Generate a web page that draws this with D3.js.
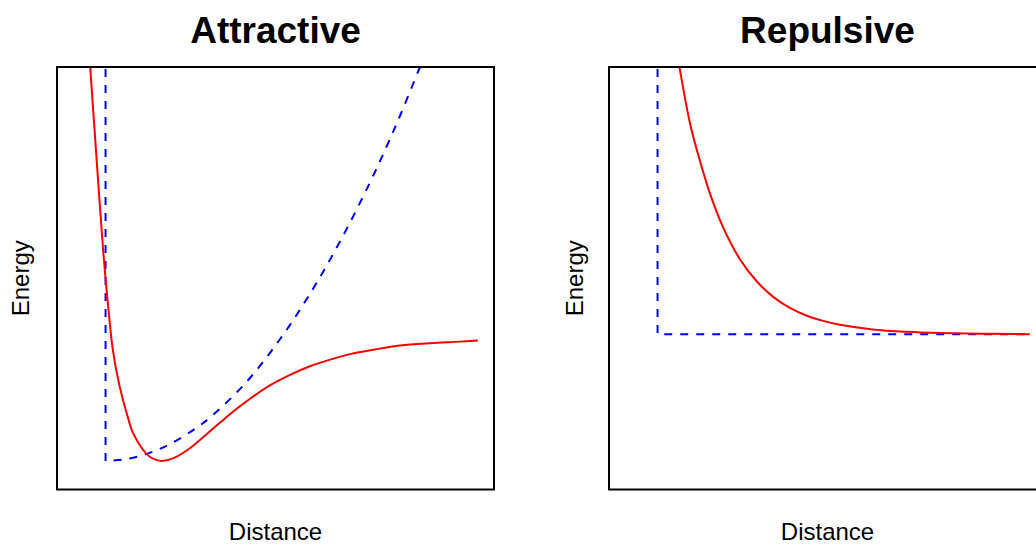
<!DOCTYPE html>
<html>
<head>
<meta charset="utf-8">
<script src="https://cdn.jsdelivr.net/npm/d3@7"></script>
<style>
  html, body { margin: 0; padding: 0; background: #fff; }
  svg { display: block; }
  text { font-family: "Liberation Sans", Arial, Helvetica, sans-serif; fill: #000; }
</style>
</head>
<body>
<svg id="chart" width="1036" height="544"></svg>
<script>
// ---- Data (arbitrary distance / energy units) ----
const panelTitles = ["Attractive", "Repulsive"];
const xLabel = "Distance";
const yLabel = "Energy";

// Attractive panel: realistic potential (red, solid)
const attractiveDistance = [0.35, 0.42, 0.58, 0.74, 0.81, 0.89, 0.98, 1.13, 1.35, 1.48, 1.73, 1.90, 2.02, 2.19, 2.52, 2.89, 3.26, 3.63, 4.00, 4.37, 4.86, 5.36, 5.85, 6.35, 6.84, 7.46, 8.08, 8.82, 9.56, 10.00];
const attractiveEnergy   = [11.35, 10.40, 8.02, 5.72, 4.88, 4.01, 3.17, 2.32, 1.45, 1.04, 0.61, 0.43, 0.37, 0.33, 0.42, 0.66, 0.98, 1.31, 1.63, 1.92, 2.26, 2.53, 2.75, 2.92, 3.06, 3.18, 3.28, 3.34, 3.38, 3.41];

// Attractive panel: idealised model (blue, dashed) - hard wall then parabola
const attractiveModelWall = { distance: 0.80, top: 11.17 };
const attractiveModelDistance = [0.80, 1.28, 1.82, 2.39, 3.01, 3.46, 4.30, 5.11, 5.85, 6.59, 7.34, 7.76, 8.08, 8.57, 8.82];
const attractiveModelEnergy   = [0.33, 0.37, 0.51, 0.76, 1.15, 1.51, 2.37, 3.44, 4.60, 5.93, 7.46, 8.40, 9.16, 10.40, 11.04];

// Repulsive panel: realistic potential (red, solid)
const repulsiveDistance = [1.22, 1.34, 1.60, 1.85, 2.10, 2.42, 2.84, 3.26, 3.65, 4.07, 4.49, 4.89, 5.31, 6.12, 6.96, 7.78, 10.00];
const repulsiveEnergy   = [11.09, 10.40, 8.97, 7.99, 7.15, 6.30, 5.48, 4.91, 4.53, 4.24, 4.04, 3.91, 3.81, 3.69, 3.63, 3.60, 3.57];

// Repulsive panel: idealised model (blue, dashed) - hard wall then flat
const repulsiveModelWall = { distance: 0.80, top: 11.17 };
const repulsiveModelDistance = [0.80, 10.00];
const repulsiveModelEnergy   = [3.57, 3.57];

const xDomain = [-0.4, 10.4];
const yDomain = [-0.4, 10.4];

// ---- Layout ----
const svg = d3.select("#chart");
const boxTop = 67, boxBottom = 489.5, boxWidth = 437;
const panels = [
  { left: 57,  title: panelTitles[0],
    red: d3.zip(attractiveDistance, attractiveEnergy),
    wall: attractiveModelWall,
    blue: d3.zip(attractiveModelDistance, attractiveModelEnergy), curve: d3.curveCatmullRom.alpha(0.5),
    yLabelX: 29 },
  { left: 609, title: panelTitles[1],
    red: d3.zip(repulsiveDistance, repulsiveEnergy),
    wall: repulsiveModelWall,
    blue: d3.zip(repulsiveModelDistance, repulsiveModelEnergy), curve: d3.curveLinear,
    yLabelX: 583 }
];

panels.forEach((p, i) => {
  const x = d3.scaleLinear().domain(xDomain).range([p.left, p.left + boxWidth]);
  const y = d3.scaleLinear().domain(yDomain).range([boxBottom, boxTop]);
  const cx = p.left + boxWidth / 2;
  const cy = (boxTop + boxBottom) / 2;

  const clipId = "clip" + i;
  svg.append("clipPath").attr("id", clipId)
    .append("rect").attr("x", p.left).attr("y", boxTop)
    .attr("width", boxWidth).attr("height", boxBottom - boxTop);

  const g = svg.append("g").attr("clip-path", `url(#${clipId})`);

  // blue dashed model: vertical wall joined to the model curve in one path
  const bluePath = d3.line().x(d => x(d[0])).y(d => y(d[1])).curve(p.curve)(p.blue);
  const wallStart = `M${x(p.wall.distance)},${y(p.wall.top)}L`;
  g.append("path")
    .attr("d", wallStart + bluePath.slice(1))
    .attr("fill", "none")
    .attr("stroke", "#0000ff")
    .attr("stroke-width", 2)
    .attr("stroke-dasharray", "8,8");

  // red solid realistic curve
  g.append("path")
    .attr("d", d3.line().x(d => x(d[0])).y(d => y(d[1])).curve(d3.curveCatmullRom.alpha(0.5))(p.red))
    .attr("fill", "none")
    .attr("stroke", "#ff0000")
    .attr("stroke-width", 2);

  // box
  svg.append("rect")
    .attr("x", p.left).attr("y", boxTop)
    .attr("width", boxWidth).attr("height", boxBottom - boxTop)
    .attr("fill", "none").attr("stroke", "#000").attr("stroke-width", 2);

  // title
  svg.append("text")
    .attr("x", cx).attr("y", 43)
    .attr("text-anchor", "middle")
    .attr("font-size", 37).attr("font-weight", "bold")
    .text(p.title);

  // x label
  svg.append("text")
    .attr("x", cx).attr("y", 540)
    .attr("text-anchor", "middle")
    .attr("font-size", 24)
    .text(xLabel);

  // y label
  svg.append("text")
    .attr("transform", `translate(${p.yLabelX},${cy}) rotate(-90)`)
    .attr("text-anchor", "middle")
    .attr("font-size", 24)
    .text(yLabel);
});
</script>
</body>
</html>
